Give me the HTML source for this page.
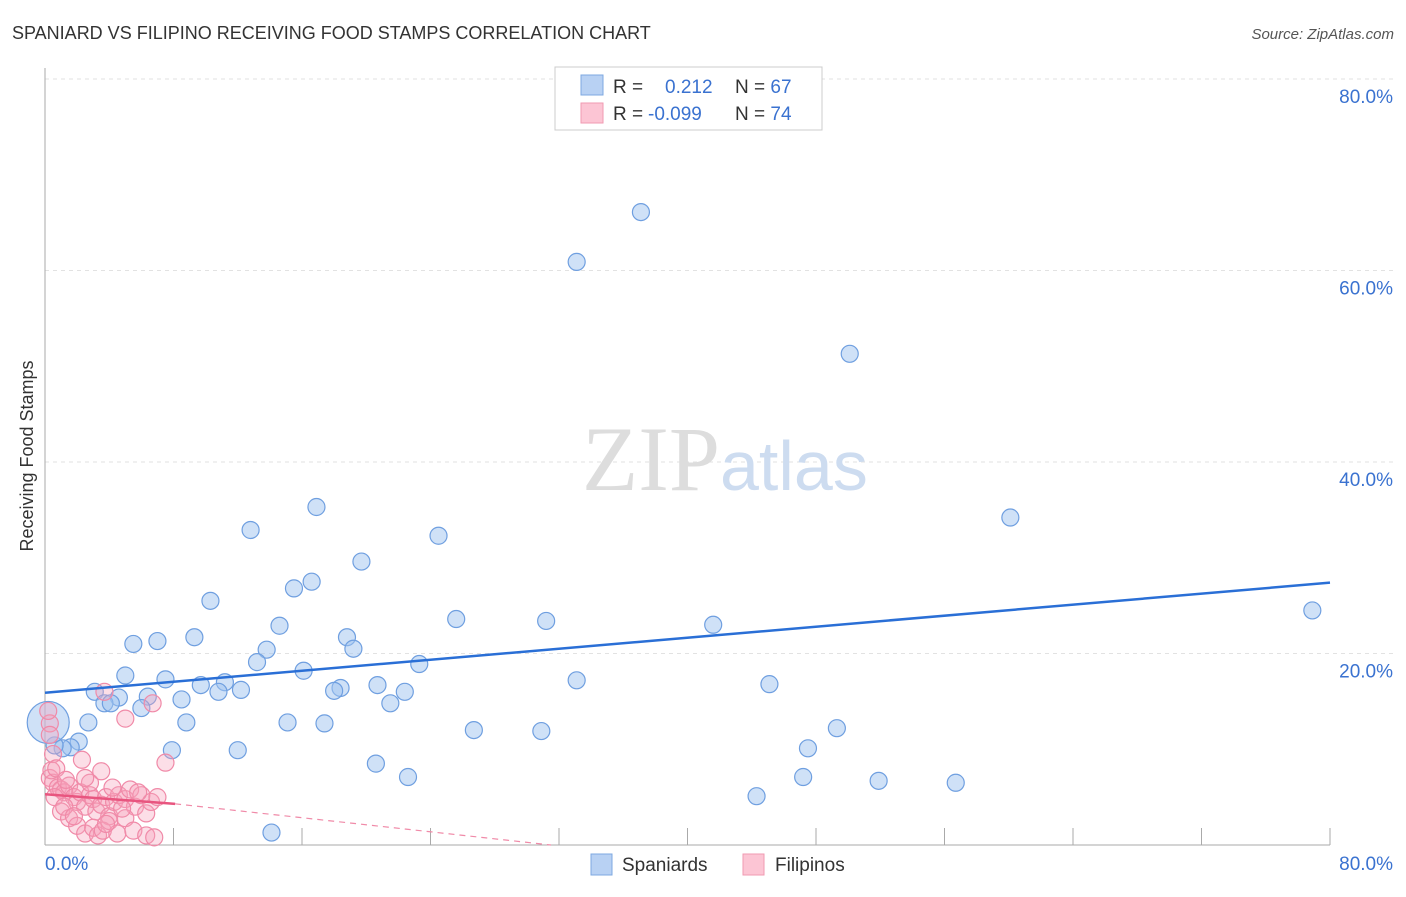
<!DOCTYPE html>
<html><head><meta charset="utf-8"><style>
body{margin:0;background:#fff;font-family:"Liberation Sans",sans-serif;}
</style></head><body>
<svg id="chart" width="1406" height="892" xmlns="http://www.w3.org/2000/svg">
<text x="12" y="39" font-size="18" fill="#333">SPANIARD VS FILIPINO RECEIVING FOOD STAMPS CORRELATION CHART</text>
<text x="1394" y="39" font-size="15" fill="#555" font-style="italic" text-anchor="end">Source: ZipAtlas.com</text>
<text x="33" y="456" font-size="18" fill="#333" text-anchor="middle" transform="rotate(-90 33 456)">Receiving Food Stamps</text>
<g id="grid"></g>
<g id="ticks"></g>
<text x="720" y="490" font-size="92" font-family="Liberation Serif,serif" fill="#ddd" text-anchor="end">ZIP</text>
<text x="720" y="490" font-size="70" fill="#cddcf0">atlas</text>
<g id="pts"></g>
<g id="lines"></g>
<rect x="555" y="67" width="267" height="63" fill="#fff" stroke="#ccc"/>
<rect x="581" y="75" width="22" height="20" fill="#b8d1f3" stroke="#7ea8e0"/>
<rect x="581" y="103" width="22" height="20" fill="#fcc5d4" stroke="#f09ab2"/>
<text x="613" y="93" font-size="19" fill="#333">R = <tspan x="665" fill="#3a72d0">0.212</tspan><tspan x="735" fill="#333">N = </tspan><tspan fill="#3a72d0">67</tspan></text>
<text x="613" y="120" font-size="19" fill="#333">R = <tspan x="648" fill="#3a72d0">-0.099</tspan><tspan x="735" fill="#333">N = </tspan><tspan fill="#3a72d0">74</tspan></text>
<rect x="591" y="854" width="21" height="21" fill="#b8d1f3" stroke="#7ea8e0"/>
<text x="622" y="871" font-size="19" fill="#333">Spaniards</text>
<rect x="743" y="854" width="21" height="21" fill="#fcc5d4" stroke="#f09ab2"/>
<text x="775" y="871" font-size="19" fill="#333">Filipinos</text>
</svg>
<script>
const yTicks=[20,40,60,80];
const xTickLabels=["0.0%","80.0%"];
const blueX=[37.1,33.1,50.1,60.1,78.9,16.9,12.8,24.5,19.7,16.6,15.5,10.3,25.6,31.2,41.6,14.6,9.3,18.8,7.0,5.5,13.8,19.2,13.2,23.3,16.1,5.0,7.5,33.1,45.1,9.7,11.2,20.7,18.4,18.0,12.2,10.8,3.1,22.4,8.5,4.6,6.4,21.5,3.7,4.1,6.0,15.1,17.4,8.8,2.7,26.7,30.9,49.3,2.1,1.6,1.1,0.6,7.9,12.0,47.5,20.6,22.6,47.2,51.9,56.7,44.3,14.1];
const blueY=[66.1,60.9,51.3,34.2,24.5,35.3,32.9,32.3,29.6,27.5,26.8,25.5,23.6,23.4,23.0,22.9,21.7,21.7,21.3,21.0,20.4,20.5,19.1,18.9,18.2,17.7,17.3,17.2,16.8,16.7,17.0,16.7,16.4,16.1,16.2,16.0,16.0,16.0,15.2,15.4,15.5,14.8,14.8,14.8,14.3,12.8,12.7,12.8,12.8,12.0,11.9,12.2,10.8,10.2,10.1,10.4,9.9,9.9,10.1,8.5,7.1,7.1,6.7,6.5,5.1,1.3];
const pinkX=[0.3,0.5,0.8,1.0,1.2,0.6,1.5,1.8,2.0,2.2,2.5,2.8,3.0,3.2,3.5,3.8,4.0,4.3,4.6,5.0,5.3,5.6,6.0,6.3,6.6,7.0,1.0,1.5,2.0,2.5,3.0,3.3,3.6,4.0,4.5,5.0,5.5,6.3,6.8,2.3,3.5,0.4,7.5,5.0,3.7,6.7,0.3,0.3,0.2,0.5,1.2,2.8,4.2,5.8,1.8,3.8,4.8,0.7,2.5,1.3];
const pinkY=[7.0,6.5,6.0,5.8,5.5,5.0,6.2,5.0,4.5,5.5,4.0,5.2,4.8,3.5,4.2,5.0,3.0,4.5,5.2,4.8,5.8,4.0,5.2,3.3,4.5,5.0,3.5,2.8,2.0,1.2,1.8,1.0,1.5,2.5,1.2,2.8,1.5,1.0,0.8,8.9,7.7,7.8,8.6,13.2,16.0,14.8,12.7,11.5,14.0,9.5,4.0,6.5,6.0,5.5,3.0,2.2,3.8,8.0,7.0,6.8];
const bigPoint=[0.2,12.8];
const blueTrend=[15.9,27.4];
const pinkTrend=[5.3,4.3,0];
const X=v=>45+v/80*1285, Y=v=>845-v/20*191.5;
const NS="http://www.w3.org/2000/svg";
function mk(tag,attrs,parent){const e=document.createElementNS(NS,tag);for(const k in attrs)e.setAttribute(k,attrs[k]);parent.appendChild(e);return e;}
const grid=document.getElementById('grid'),ticks=document.getElementById('ticks'),pts=document.getElementById('pts'),lines=document.getElementById('lines');
yTicks.forEach(t=>{
 const l=mk('line',{x1:45,x2:1394,y1:Y(t),y2:Y(t),stroke:'#e2e2e2','stroke-dasharray':'4 4'},grid);
 
 
 const tx=mk('text',{x:1393,y:Y(t)+24,'font-size':19,fill:'#3a72d0','text-anchor':'end'},ticks);
 tx.textContent=t.toFixed(1)+'%';
 
 
});
mk('line',{x1:45,x2:45,y1:68,y2:845,stroke:'#aaa'},grid);
mk('line',{x1:45,x2:1330,y1:845,y2:845,stroke:'#aaa'},grid);
for(let i=1;i<=10;i++){const tk=mk('line',{x1:X(i*8),x2:X(i*8),y1:828,y2:845,stroke:'#aaa'},ticks);
 
 }
xTickLabels.forEach((s,i)=>{const tx=mk('text',{x:i?1393:45,y:870,'font-size':19,fill:'#3a72d0','text-anchor':i?'end':'start'},ticks);
 tx.textContent=s;
 
 });
blueX.forEach((x,i)=>{const c=mk('circle',{cx:X(x),cy:Y(blueY[i]),r:8.5,fill:'rgba(160,195,240,0.5)',stroke:'#6f9fe0','stroke-width':1.2},pts);
 
 });
const bp=mk('circle',{cx:X(bigPoint[0]),cy:Y(bigPoint[1]),r:21,fill:'rgba(160,195,240,0.5)',stroke:'#6f9fe0','stroke-width':1.2},pts);


pinkX.forEach((x,i)=>{const c=mk('circle',{cx:X(x),cy:Y(pinkY[i]),r:8.5,fill:'rgba(245,160,185,0.35)',stroke:'#f08aa8','stroke-width':1.2},pts);
 
 });
const bl=mk('line',{x1:X(0),y1:Y(blueTrend[0]),x2:X(80),y2:Y(blueTrend[1]),stroke:'#2a6fd6','stroke-width':2.5},lines);


const pl=mk('line',{x1:X(0),y1:Y(pinkTrend[0]),x2:X(8.1),y2:Y(pinkTrend[1]),stroke:'#e8557f','stroke-width':2.5},lines);


const pd=mk('line',{x1:X(8.1),y1:Y(pinkTrend[1]),x2:X(31.5),y2:Y(pinkTrend[2]),stroke:'#f08aa8','stroke-width':1.2,'stroke-dasharray':'6 5'},lines);


</script>
</body></html>
